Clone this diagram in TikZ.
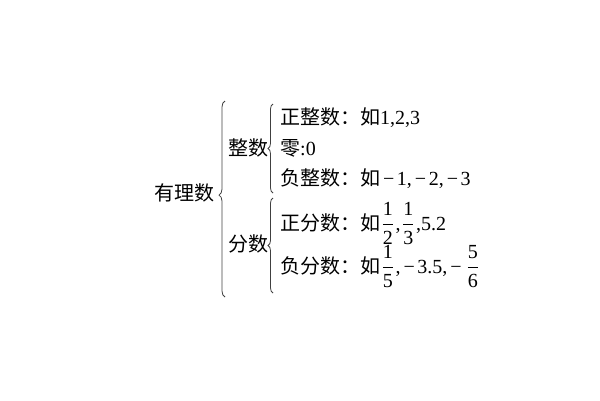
\documentclass[tikz,border=0pt]{standalone}
\usepackage{fontspec}
\usepackage{amsmath}
\setmainfont{Liberation Serif}
\newfontfamily\cjk{Noto Sans CJK SC}
\usetikzlibrary{decorations.pathreplacing}
\newcommand{\mn}{\kern3pt−\kern2.5pt}
\newcommand{\fr}[2]{\kern1.5pt$\dfrac{\text{#1}}{\text{#2}}$\kern1.5pt}
\begin{document}
\begin{tikzpicture}[x=1pt,y=-1pt,
  lbl/.style={inner sep=0pt, font=\fontsize{20}{24}\selectfont},
  brc/.style={decorate, decoration={brace, amplitude=6pt, aspect=0.5}, line width=0.8pt, draw=black!75}]
\useasboundingbox (0,0) rectangle (600,400);
\node[lbl] (r) at (184,193) {\cjk 有理数};
\node[lbl] (z) at (248,148) {\cjk 整数};
\node[lbl] (f) at (248,244) {\cjk 分数};
\node[lbl, anchor=base west] (z1) at (280,124) {{\cjk 正整数：如}1,2,3};
\node[lbl, anchor=base west] (z2) at (280,155) {{\cjk 零}:0};
\node[lbl, anchor=base west] (z3) at (280,185) {{\cjk 负整数：如}\mn1,\mn2,\mn3};
\node[lbl, anchor=base west] (f1) at (280,230) {{\cjk 正分数：如}\fr12,\fr13,5.2};
\node[lbl, anchor=base west] (f2) at (280,273) {{\cjk 负分数：如}\fr15,\mn3.5,\mn\kern1pt\fr56};
\coordinate (b1t) at (225,101);
\coordinate (b1b) at (225,297);
\coordinate (b2t) at (273,104);
\coordinate (b2b) at (273,193);
\coordinate (b3t) at (273,198);
\coordinate (b3b) at (273,293);
\draw[brc, decoration={aspect=0.52}] (b1b) -- (b1t);
\draw[brc, decoration={amplitude=5pt}] (b2b) -- (b2t);
\draw[brc, decoration={amplitude=5pt}] (b3b) -- (b3t);
\end{tikzpicture}
\end{document}
